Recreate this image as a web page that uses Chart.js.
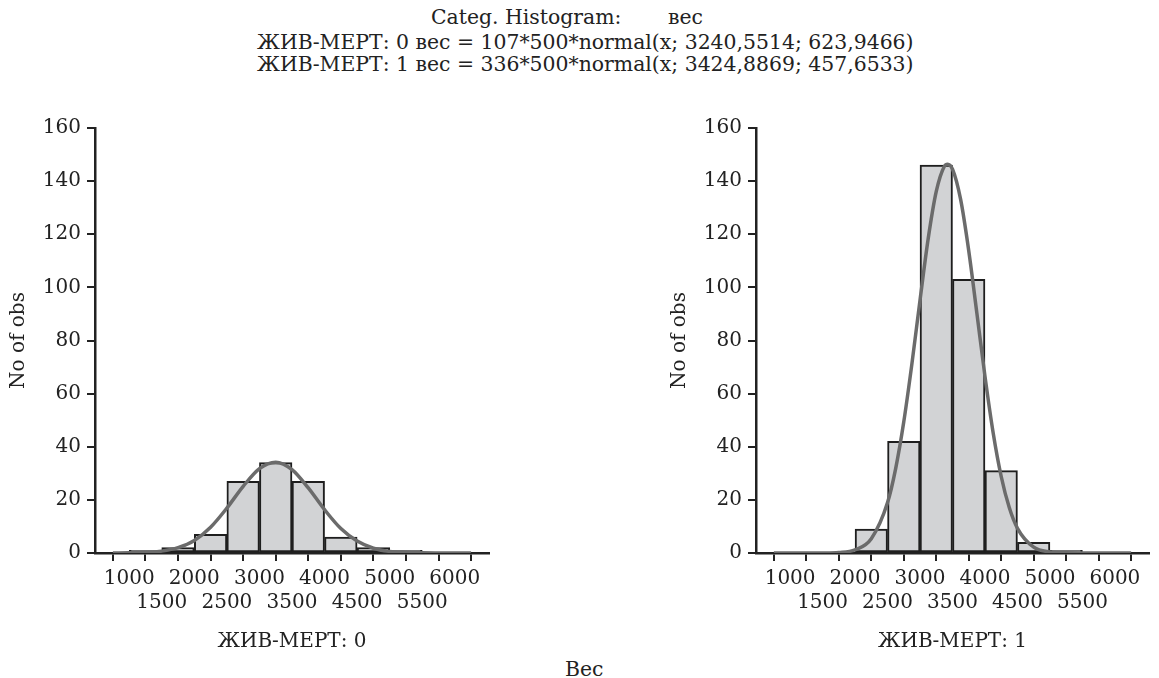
<!DOCTYPE html>
<html>
<head>
<meta charset="utf-8">
<script src="https://cdn.jsdelivr.net/npm/chart.js@4.4.1/dist/chart.umd.min.js"></script>
<style>
    body { margin: 0; background: #fff; width: 1159px; height: 678px; position: relative; overflow: hidden; font-family: "DejaVu Serif", "Liberation Serif", serif; color: #222; }
    .txt { position: absolute; font-size: 20.4px; line-height: 23px; white-space: nowrap; }
    .box { position: absolute; }
</style>
</head>
<body>
<div class="txt" style="left:431px; top:6px;">Categ. Histogram:</div>
<div class="txt" style="left:668px; top:6px;">вес</div>
<div class="txt" style="left:257px; top:31px;">ЖИВ-МЕРТ: 0 вес = 107*500*normal(x; 3240,5514; 623,9466)</div>
<div class="txt" style="left:257px; top:53px;">ЖИВ-МЕРТ: 1 вес = 336*500*normal(x; 3424,8869; 457,6533)</div>
<div class="txt" style="left:565px; top:658px;">Вес</div>

<div class="box" style="left:0px; top:110px; width:510px; height:560px;"><canvas id="chart0"></canvas></div>
<div class="box" style="left:661px; top:110px; width:498px; height:560px;"><canvas id="chart1"></canvas></div>

<script>
// histogram bins (500 wide), centres
const binCenters = [1250, 1750, 2250, 2750, 3250, 3750, 4250, 4750, 5250, 5750];
const counts0 = [1, 2, 7, 27, 34, 27, 6, 2, 1, 0];
const counts1 = [0, 0, 9, 42, 146, 103, 31, 4, 1, 0];

// fitted normal curves
const curveX0 = [750, 1000, 1250, 1500, 1750, 2000, 2250, 2500, 2750, 3000, 3250, 3500, 3750, 4000, 4250, 4500, 4750, 5000, 5250, 5500, 5750, 6000, 6250];
const curveY0 = [0.01, 0.05, 0.2, 0.7, 2.0, 4.7, 9.7, 16.9, 25.1, 31.8, 34.2, 31.4, 24.5, 16.3, 9.2, 4.5, 1.8, 0.6, 0.2, 0.05, 0.01, 0, 0];
const curveX1 = [750, 1000, 1250, 1500, 1750, 2000, 2250, 2500, 2625, 2750, 2875, 3000, 3125, 3250, 3375, 3425, 3500, 3625, 3750, 3875, 4000, 4125, 4250, 4375, 4500, 4750, 5000, 5250, 5500, 5750, 6000, 6250];
const curveY1 = [0, 0, 0, 0.02, 0.2, 1.2, 5.4, 19.0, 31.8, 49.4, 71.2, 95.2, 118.2, 136.1, 145.6, 146.4, 144.5, 133.1, 113.8, 90.3, 66.5, 45.4, 28.8, 17.0, 9.3, 2.2, 0.4, 0.05, 0, 0, 0, 0];

const xTicks = [1000, 1500, 2000, 2500, 3000, 3500, 4000, 4500, 5000, 5500, 6000];
const yTicks = [0, 20, 40, 60, 80, 100, 120, 140, 160];
const groupNames = ["ЖИВ-МЕРТ: 0", "ЖИВ-МЕРТ: 1"];

Chart.defaults.font.family = "'DejaVu Serif', 'Liberation Serif', serif";
Chart.defaults.font.size = 20;
Chart.defaults.color = "#222";

function pairs(xs, ys) {
    return xs.map((x, i) => ({ x: x, y: ys[i] }));
}

function drawHistogram(canvasId, counts, curveX, curveY, name, padRight) {
    new Chart(document.getElementById(canvasId), {
        type: "bar",
        data: {
            datasets: [
                {
                    type: "line",
                    data: pairs(curveX, curveY),
                    borderColor: "#6b6b6b",
                    borderWidth: 3.5,
                    pointRadius: 0,
                    cubicInterpolationMode: "monotone",
                    fill: false
                },
                {
                    type: "bar",
                    data: pairs(binCenters, counts),
                    backgroundColor: "#d2d3d5",
                    borderColor: "#1e1e1e",
                    borderWidth: 2,
                    borderSkipped: false,
                    categoryPercentage: 1,
                    barPercentage: 1
                }
            ]
        },
        options: {
            responsive: true,
            maintainAspectRatio: false,
            animation: false,
            layout: { padding: { top: 18, right: padRight, left: 0, bottom: 0 } },
            plugins: {
                legend: { display: false },
                tooltip: { enabled: false }
            },
            scales: {
                x: {
                    type: "linear",
                    min: 750,
                    max: 6250,
                    afterBuildTicks: axis => { axis.ticks = xTicks.map(v => ({ value: v })); },
                    afterFit: axis => { axis.height = 117; },
                    ticks: {
                        autoSkip: false,
                        maxRotation: 0,
                        minRotation: 0,
                        padding: 6,
                        font: { lineHeight: 1.2 },
                        callback: v => (v % 1000 === 0 ? String(v) : ["", String(v)])
                    },
                    grid: { drawOnChartArea: false, tickLength: 8, color: "#222", lineWidth: 2 },
                    border: { color: "#222", width: 2.5 },
                    title: { display: true, text: name, padding: { top: 0, bottom: 16 }, font: { lineHeight: 1.2 } }
                },
                y: {
                    min: 0,
                    max: 160,
                    afterBuildTicks: axis => { axis.ticks = yTicks.map(v => ({ value: v })); },
                    afterFit: axis => { axis.width = 95; },
                    ticks: { padding: 6 },
                    grid: { drawOnChartArea: false, tickLength: 8, color: "#222", lineWidth: 2 },
                    border: { color: "#222", width: 2.5 },
                    title: { display: true, text: "No of obs", padding: { top: 7, bottom: 0 }, font: { lineHeight: 1.2 } }
                }
            }
        }
    });
}

drawHistogram("chart0", counts0, curveX0, curveY0, groupNames[0], 21);
drawHistogram("chart1", counts1, curveX1, curveY1, groupNames[1], 10);
</script>
</body>
</html>
